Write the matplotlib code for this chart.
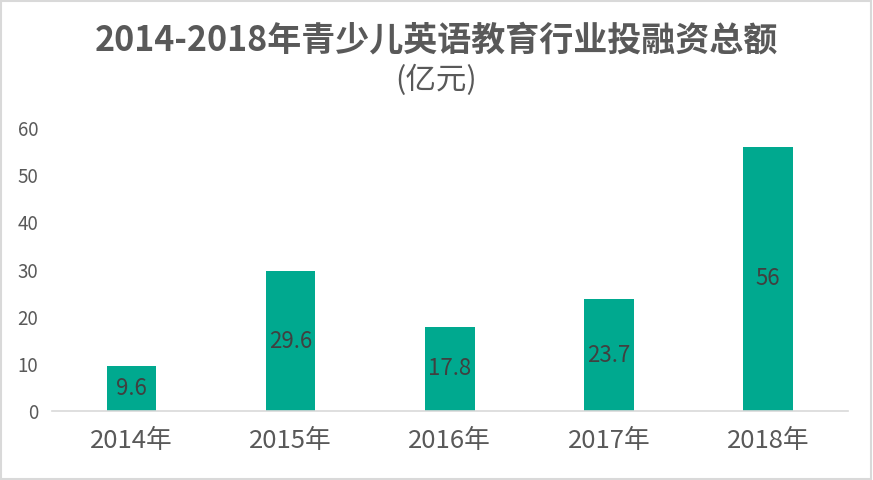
import matplotlib
matplotlib.use("Agg")
import matplotlib.pyplot as plt
from matplotlib.patches import Rectangle

plt.rcParams['font.family'] = ['Noto Sans CJK SC', 'DejaVu Sans']

categories = ["2014年", "2015年", "2016年", "2017年", "2018年"]
values = [9.6, 29.6, 17.8, 23.7, 56]
value_labels = ["9.6", "29.6", "17.8", "23.7", "56"]
yticks = [0, 10, 20, 30, 40, 50, 60]
title = "2014-2018年青少儿英语教育行业投融资总额"
subtitle = "(亿元)"

fig = plt.figure(figsize=(8.73, 4.8), dpi=100)
ax = fig.add_axes([0.0596, 0.144, 0.9114, 0.589])

bar_color = "#00A98F"
x = range(len(categories))
bars = ax.bar(x, values, width=0.31, color=bar_color, zorder=2)
for b, lab in zip(bars, value_labels):
    ax.text(b.get_x() + b.get_width() / 2, b.get_height() / 2, lab,
            ha="center", va="center", fontsize=16, color="#404040")

ax.set_xlim(-0.5, len(categories) - 0.5)
ax.set_ylim(0, 60)
ax.set_yticks(yticks)
ax.set_xticks(list(x))
ax.set_xticklabels(categories, fontsize=18.5, color="#595959")
ax.tick_params(axis="y", labelsize=13.5, labelcolor="#595959", length=0, pad=10)
ax.tick_params(axis="x", length=0, pad=12)
for s in ["left", "right", "top"]:
    ax.spines[s].set_visible(False)
ax.spines["bottom"].set_color("#D9D9D9")
ax.spines["bottom"].set_linewidth(1.2)

fig.text(0.5, 0.917, title, ha="center", va="center", fontsize=24.5,
         fontweight="bold", color="#595959")
fig.text(0.5, 0.832, subtitle, ha="center", va="center", fontsize=22,
         color="#595959")

fig.patches.append(Rectangle((0.001, 0.002), 0.997, 0.995, transform=fig.transFigure,
                             fill=False, edgecolor="#D9D9D9", linewidth=1.5))

fig.savefig("out.png", dpi=100)
